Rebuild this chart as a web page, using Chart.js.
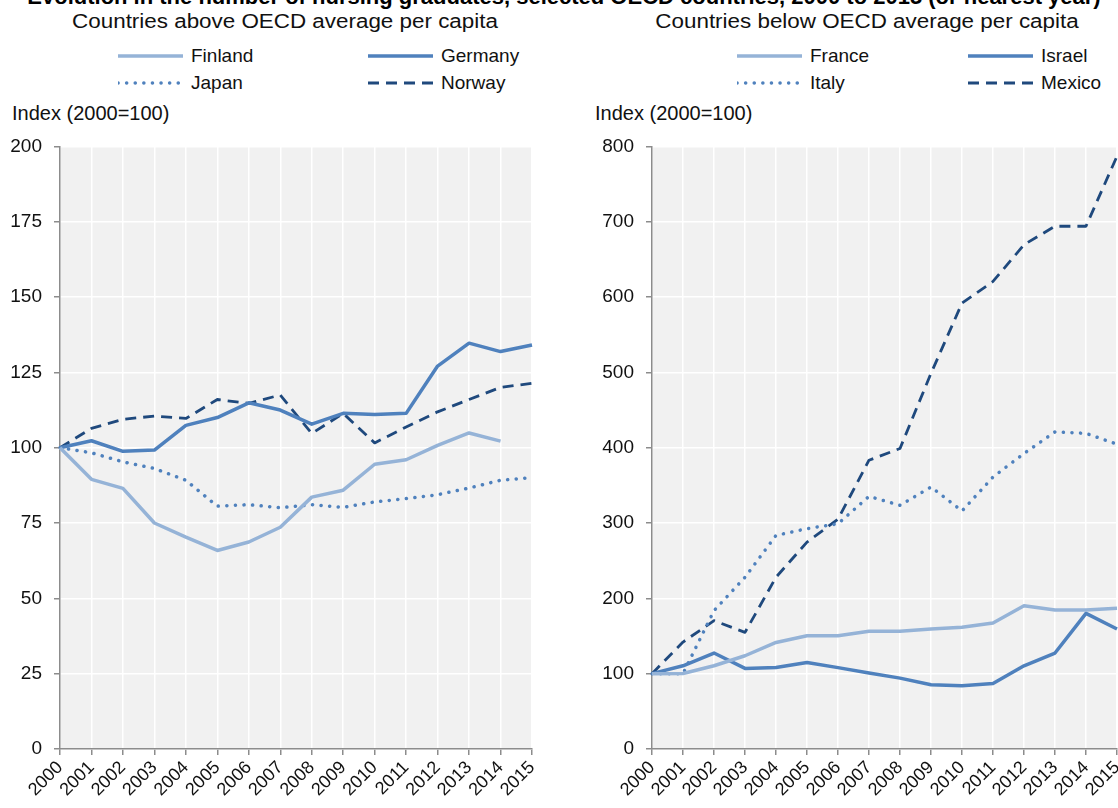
<!DOCTYPE html>
<html>
<head>
<meta charset="utf-8">
<script src="https://cdn.jsdelivr.net/npm/chart.js@4/dist/chart.umd.min.js"></script>
<style>
body { margin:0; width:1118px; height:808px; overflow:hidden; background:#fff; position:relative;
       font-family:"Liberation Sans", Arial, sans-serif; color:#111; }
.txt { position:absolute; white-space:nowrap; }
#mainTitle { left:5px; width:1118px; text-align:center; top:-14px; font-size:22px; line-height:22px; font-weight:bold; color:#000; }
.subTitle { top:11px; font-size:20px; line-height:20px; width:540px; text-align:center; transform:scaleX(1.12); }
.axisLabel { top:102px; font-size:20px; line-height:22px; }
.legItem { position:absolute; height:24px; font-size:19px; line-height:24px; white-space:nowrap; }
.legItem svg { position:absolute; left:0; top:0; }
.legItem span { position:absolute; top:0; }
canvas { position:absolute; }
</style>
</head>
<body>

<div id="mainTitle" class="txt">Evolution in the number of nursing graduates, selected OECD countries, 2000 to 2015 (or nearest year)</div>
<div class="txt subTitle" style="left:15px;">Countries above OECD average per capita</div>
<div class="txt subTitle" style="left:597px;">Countries below OECD average per capita</div>
<div class="txt axisLabel" style="left:12px;">Index (2000=100)</div>
<div class="txt axisLabel" style="left:595px;">Index (2000=100)</div>

<canvas id="leftChart" style="left:0px; top:123px;" width="550" height="686"></canvas>
<canvas id="rightChart" style="left:592px; top:123px;" width="543" height="686"></canvas>

<script>
var years = ["2000","2001","2002","2003","2004","2005","2006","2007","2008","2009","2010","2011","2012","2013","2014","2015"];

// countries above OECD average
var finland = [100, 89.5, 86.5, 75, 70.3, 65.9, 68.7, 73.6, 83.6, 85.9, 94.5, 96, 100.8, 104.9, 102.2, null];
var germany = [100, 102.3, 98.8, 99.2, 107.4, 110, 114.9, 112.5, 107.8, 111.4, 111, 111.4, 127.1, 134.7, 131.9, 134.1];
var japan   = [100, 98.3, 95.3, 93.1, 89.2, 80.6, 81.1, 80.1, 81.1, 80.2, 82, 83.1, 84.4, 86.6, 89.2, 90.1];
var norway  = [100, 106.4, 109.4, 110.5, 109.7, 116, 114.7, 117.5, 104.7, 111.4, 101.6, 106.9, 111.9, 116, 120, 121.4];

// countries below OECD average
var france = [100, 100.3, 110.5, 123.8, 141.5, 150.4, 150.4, 156.2, 156.2, 159.3, 161.5, 167.3, 190.3, 184.6, 184.6, 186.8];
var israel = [100, 110.5, 127.4, 107, 108.3, 114.9, 108, 100.8, 94.1, 85.2, 83.9, 87, 110.5, 127.4, 180.1, 159.3];
var italy  = [100, 100, 183.7, 228, 283.5, 292.5, 299, 335.4, 323.5, 347.8, 316, 361, 392.3, 421, 419, 404.7];
var mexico = [100, 142, 170.4, 154.8, 228, 274.6, 305, 383.4, 399, 498.7, 592, 620.7, 669.5, 694, 694, 787];

var leftNames = ["Finland", "Germany", "Japan", "Norway"];
var rightNames = ["France", "Israel", "Italy", "Mexico"];
var leftTicks = {max: 200, step: 25};
var rightTicks = {max: 800, step: 100};

var fontFam = '"Liberation Sans", Arial, sans-serif';

// line looks, in the same order as the series
var looks = [
  {color: "#95b3d7", width: 3.5, dash: [], cap: "butt"},
  {color: "#4f81bd", width: 3.5, dash: [], cap: "butt"},
  {color: "#4f81bd", width: 3.5, dash: [0.1, 8.5], cap: "round"},
  {color: "#1f497d", width: 2.8, dash: [11, 7], cap: "butt"}
];

var plotBg = {
  id: "plotBg",
  beforeDraw: function(chart) {
    var a = chart.chartArea, c = chart.ctx;
    c.save();
    c.fillStyle = "#f1f1f1";
    c.fillRect(a.left, a.top, a.right - a.left, a.bottom - a.top);
    c.restore();
  }
};

function makeSets(names, series) {
  var sets = [];
  for (var i = 0; i < names.length; i++) {
    sets.push({
      label: names[i],
      data: series[i],
      borderColor: looks[i].color,
      backgroundColor: looks[i].color,
      borderWidth: looks[i].width,
      borderDash: looks[i].dash,
      borderCapStyle: looks[i].cap,
      borderJoinStyle: "round",
      pointRadius: 0,
      tension: 0,
      fill: false,
      spanGaps: false
    });
  }
  return sets;
}

function makeChart(id, names, series, yt) {
  var cx = document.getElementById(id);
  return new Chart(cx, {
    type: "line",
    data: {labels: years, datasets: makeSets(names, series)},
    plugins: [plotBg],
    options: {
      responsive: false,
      animation: false,
      layout: {padding: {top: 16, right: 18, left: 0, bottom: 0}},
      plugins: {legend: {display: false}, tooltip: {enabled: false}},
      scales: {
        x: {
          grid: {color: "#ffffff", lineWidth: 1.5, tickColor: "#8c8c8c", tickLength: 6},
          border: {color: "#8c8c8c", width: 1.5},
          ticks: {color: "#111", font: {family: fontFam, size: 18}, minRotation: 45, maxRotation: 45, autoSkip: false, padding: 2},
          afterFit: function(s) { s.height = 60; }
        },
        y: {
          min: 0, max: yt.max,
          grid: {color: "#ffffff", lineWidth: 1.5, tickColor: "#8c8c8c", tickLength: 6},
          border: {color: "#8c8c8c", width: 1.5},
          ticks: {stepSize: yt.step, color: "#111", font: {family: fontFam, size: 19}, padding: 12},
          afterFit: function(s) { s.width = 60; }
        }
      }
    }
  });
}

function addLegend(names, spots) {
  for (var i = 0; i < names.length; i++) {
    var sp = spots[i];
    var item = document.createElement("div");
    item.className = "legItem";
    item.style.left = sp[0] + "px";
    item.style.top = (sp[1] - 12) + "px";
    var len = 65;
    var lk = looks[i];
    var svg = '<svg width="' + len + '" height="24"><line x1="0" y1="12" x2="' + len + '" y2="12" stroke="' + lk.color +
      '" stroke-width="' + lk.width + '" stroke-linecap="' + lk.cap + '"' +
      (lk.dash.length ? ' stroke-dasharray="' + lk.dash.join(" ") + '"' : "") + ' /></svg>';
    item.innerHTML = svg + '<span style="left:' + (len + 8) + 'px">' + names[i] + '</span>';
    document.body.appendChild(item);
  }
}

makeChart("leftChart", leftNames, [finland, germany, japan, norway], leftTicks);
makeChart("rightChart", rightNames, [france, israel, italy, mexico], rightTicks);

addLegend(leftNames, [[118, 56], [368, 56], [118, 83], [368, 83]]);
addLegend(rightNames, [[737, 56], [968, 56], [737, 83], [968, 83]]);
</script>
</body>
</html>
